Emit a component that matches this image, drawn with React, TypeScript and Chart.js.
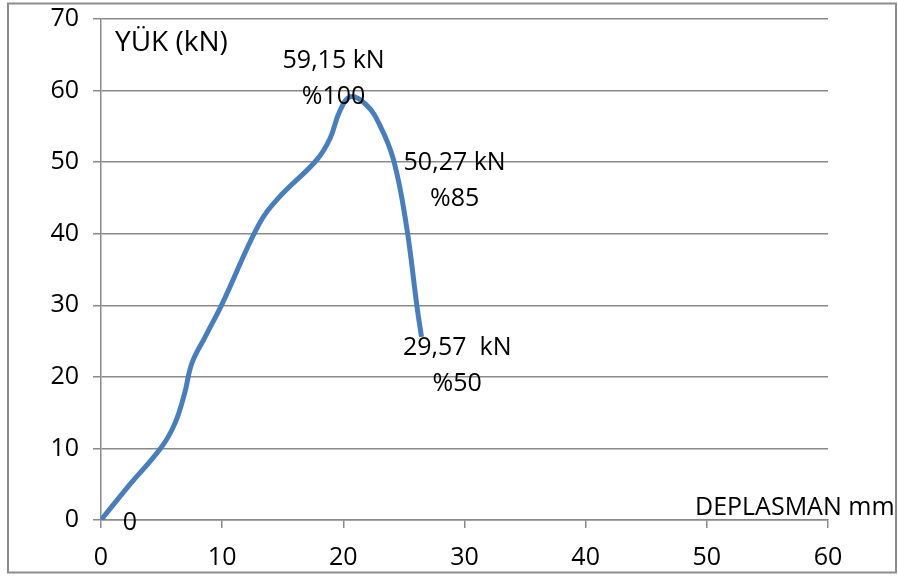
import React, { useEffect, useRef } from "react";
import { Chart, registerables } from "chart.js";

Chart.register(...registerables);

// Load–displacement curve (displacement in mm, load in kN)
const displacementMm = [0, 2.2, 5.0, 6.1, 6.9, 7.5, 8.6, 10.0, 13.0, 14.6, 17.8, 18.9, 19.7, 20.6, 21.9, 23.0, 24.15, 25.2, 26.1, 26.45];
const loadKn = [0, 4.6, 10.2, 13.5, 17.7, 21.9, 25.6, 30.2, 41.2, 44.9, 50.3, 53.3, 57.1, 59.15, 58.0, 55.2, 50.27, 41.2, 29.57, 25.6];

// Annotated points: index into the series and the text lines shown beside it
const pointLabelIndex = [0, 13, 16, 18];
const pointLabelText = [["0"], ["59,15 kN", "%100"], ["50,27 kN", "%85"], ["29,57  kN", "%50"]];

const yAxisTitle = "YÜK (kN)";
const xAxisTitle = "DEPLASMAN mm";

const FONT = "'Open Sans', 'Noto Sans', sans-serif";
const FONT_SIZE = 25;

// pixel offsets of each annotation (centre of first line) from its point
const labelOffsets: [number, number][] = [
  [29, 3],
  [-17, -36],
  [61, 3],
  [40, 40],
];
const LINE_GAP = 36;

const decorPlugin = {
  id: "decor",
  afterDatasetsDraw(chart: any) {
    const { ctx, chartArea, scales } = chart;
    const xs = scales.x;
    const ys = scales.y;
    ctx.save();
    ctx.fillStyle = "#000";
    ctx.font = `${FONT_SIZE}px ${FONT}`;
    ctx.textAlign = "center";
    ctx.textBaseline = "middle";
    pointLabelIndex.forEach((idx, i) => {
      const px = xs.getPixelForValue(displacementMm[idx]);
      const py = ys.getPixelForValue(loadKn[idx]);
      const [dx, dy] = labelOffsets[i];
      pointLabelText[i].forEach((line, j) => {
        ctx.fillText(line, px + dx, py + dy + j * LINE_GAP);
      });
    });
    ctx.textAlign = "left";
    ctx.fillText(xAxisTitle, chartArea.right - 133, chartArea.bottom - 12);
    ctx.font = `28px ${FONT}`;
    ctx.fillText(yAxisTitle, chartArea.left + 14, chartArea.top + 24);
    // outer frame
    ctx.strokeStyle = "#8c8c8c";
    ctx.lineWidth = 2;
    ctx.strokeRect(8, 3.5, 888, 569);
    ctx.restore();
  },
};

export default function App() {
  const canvasRef = useRef<HTMLCanvasElement | null>(null);

  useEffect(() => {
    if (!canvasRef.current) return;
    const chart = new Chart(canvasRef.current, {
      type: "line",
      data: {
        datasets: [
          {
            data: displacementMm.map((x, i) => ({ x, y: loadKn[i] })),
            borderColor: "#4a7ebb",
            borderWidth: 5,
            pointRadius: 0,
            tension: 0.4,
            fill: false,
          },
        ],
      },
      options: {
        responsive: false,
        animation: false,
        events: [],
        layout: { padding: { top: 19, right: 70, bottom: 0, left: 0 } },
        plugins: { legend: { display: false }, tooltip: { enabled: false } },
        scales: {
          x: {
            type: "linear",
            min: 0,
            max: 60,
            afterFit: (s: any) => {
              s.height = 56;
              s.paddingLeft = 0;
              s.paddingRight = 0;
            },
            ticks: { stepSize: 10, color: "#000", padding: 15, font: { family: FONT, size: FONT_SIZE } },
            grid: { drawOnChartArea: false, drawTicks: true, tickLength: 8, color: "#8a8a8a", lineWidth: 1.5 },
            border: { display: true, color: "#8a8a8a", width: 1.5 },
          },
          y: {
            type: "linear",
            min: 0,
            max: 70,
            afterFit: (s: any) => {
              s.width = 101;
              s.paddingTop = 0;
              s.paddingBottom = 0;
            },
            ticks: { stepSize: 10, color: "#000", padding: 14, font: { family: FONT, size: FONT_SIZE } },
            grid: { drawOnChartArea: true, drawTicks: true, tickLength: 8, color: "#8a8a8a", lineWidth: 1.5 },
            border: { display: true, color: "#8a8a8a", width: 1.5 },
          },
        },
      },
      plugins: [decorPlugin],
    });
    return () => chart.destroy();
  }, []);

  return (
    <div style={{ position: "absolute", left: 0, top: 0, width: 898, height: 576, background: "#fff" }}>
      <canvas ref={canvasRef} width={898} height={576} />
    </div>
  );
}
